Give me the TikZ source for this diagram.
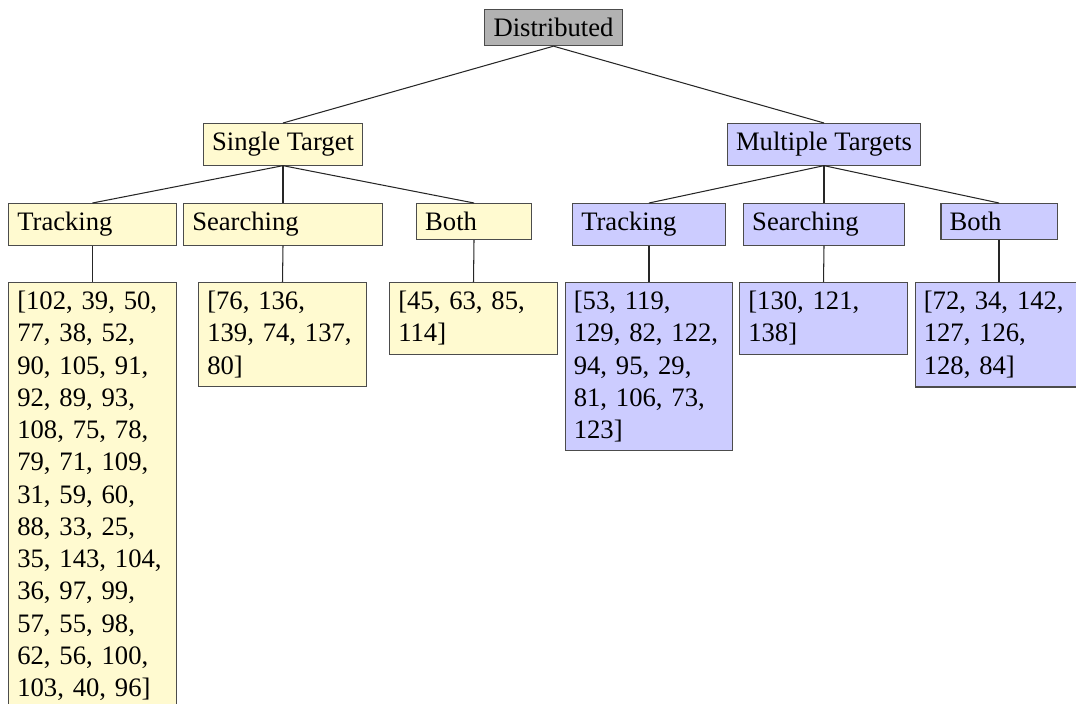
\documentclass[tikz,border=0pt]{standalone}
\usepackage{fontspec}
\setmainfont{Liberation Serif}
\usepackage{tikz}
\definecolor{stfill}{RGB}{255,250,208}
\definecolor{mtfill}{RGB}{204,204,255}
\tikzset{box/.style={draw=black!70,anchor=north,inner sep=3.33pt,font=\fontsize{10.2pt}{12.35pt}\selectfont},
  stbox/.style={box,fill=stfill},
  mtbox/.style={box,fill=mtfill},
  leafst/.style={stbox,text width=57.6pt,align=left},
  leafmt/.style={mtbox,text width=57.6pt,align=left},
  edge/.style={draw=black!85}}

\begin{document}
\begin{tikzpicture}[x=0.383pt,y=-0.383pt]
      \clip (0,0) rectangle (1076,703);

      \node[box,fill=gray!60] (dist) at (553.5,9) {Distributed};
      \node[stbox] (single) at (283,123) {Single Target};
      \node[mtbox] (multi) at (824,123) {Multiple Targets};

      \node[stbox,text width=57.6pt,align=left] (trkst) at (92.5,203) {Tracking};
      \node[stbox,text width=69.5pt,align=left] (srchst) at (283,203) {Searching};
      \node[stbox,text width=37.4pt,align=left] (bothst) at (474,203) {Both};
      \node[mtbox,text width=51.9pt,align=left] (trkmt) at (649,203) {Tracking};
      \node[mtbox,text width=55pt,align=left] (srchmt) at (824,203) {Searching};
      \node[mtbox,text width=37.8pt,align=left] (bothmt) at (999,203) {Both};

      \node[leafst] (trkstlist) at (92.5,282) {[102, 39, 50,\\ 77, 38, 52,\\ 90, 105, 91,\\ 92, 89, 93,\\ 108, 75, 78,\\ 79, 71, 109,\\ 31, 59, 60,\\ 88, 33, 25,\\ 35, 143, 104,\\ 36, 97, 99,\\ 57, 55, 98,\\ 62, 56, 100,\\ 103, 40, 96]};
      \node[leafst] (srchstlist) at (282.5,282) {[76, 136,\\ 139, 74, 137,\\ 80]};
      \node[leafst] (bothstlist) at (473.5,282) {[45, 63, 85,\\ 114]};
      \node[leafmt] (trkmtlist) at (649,282) {[53, 119,\\ 129, 82, 122,\\ 94, 95, 29,\\ 81, 106, 73,\\ 123]};
      \node[leafmt] (srchmtlist) at (823.5,282) {[130, 121,\\ 138]};
      \node[leafmt] (bothmtlist) at (999,282) {[72, 34, 142,\\ 127, 126,\\ 128, 84]};

      \draw[edge] (dist.south)--(single.north);
      \draw[edge] (dist.south)--(multi.north);
      \draw[edge] (single.south)--(trkst.north);
      \draw[edge] (single.south)--(srchst.north);
      \draw[edge] (single.south)--(bothst.north);
      \draw[edge] (multi.south)--(trkmt.north);
      \draw[edge] (multi.south)--(srchmt.north);
      \draw[edge] (multi.south)--(bothmt.north);
      \draw[edge] (trkst.south)--(trkstlist.north);
      \draw[edge] (srchst.south)--(srchstlist.north);
      \draw[edge] (bothst.south)--(bothstlist.north);
      \draw[edge] (trkmt.south)--(trkmtlist.north);
      \draw[edge] (srchmt.south)--(srchmtlist.north);
      \draw[edge] (bothmt.south)--(bothmtlist.north);
\end{tikzpicture}
\end{document}
